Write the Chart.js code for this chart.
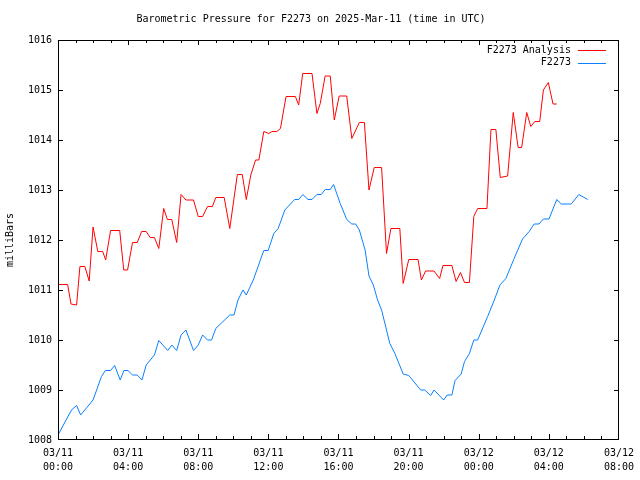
<!DOCTYPE html>
<html>
<head>
<meta charset="utf-8">
<script src="https://cdn.jsdelivr.net/npm/chart.js@4.4.1/dist/chart.umd.min.js"></script>
<style>
  body { margin: 0; background: #fff; }
  #wrap { width: 640px; height: 480px; }
</style>
</head>
<body>
<div id="wrap"><canvas id="myChart" width="640" height="480"></canvas></div>
<script>
// hours since 03/11 00:00 UTC, pressure in mb
var seriesNames = ["F2273 Analysis", "F2273"];
var seriesColors = ["#ff0000", "#0a80ff"];

var analysisHours = [0, 0.55, 0.74, 1.06, 1.25, 1.53, 1.78, 2.0, 2.27, 2.55, 2.72, 3.0, 3.52, 3.75, 3.97,
  4.25, 4.52, 4.77, 5.03, 5.26, 5.5, 5.75, 6.03, 6.24, 6.49, 6.77, 7.02, 7.3, 7.73, 8.0, 8.25, 8.53, 8.81,
  9.0, 9.48, 9.8, 10.23, 10.51, 10.74, 11.0, 11.27, 11.46, 11.74, 12.03, 12.2, 12.48, 12.69, 13.01, 13.54,
  13.73, 13.96, 14.49, 14.77, 14.96, 15.24, 15.53, 15.76, 16.04, 16.47, 16.76, 17.19, 17.48, 17.74, 18.04,
  18.46, 18.74, 18.99, 19.5, 19.69, 20.01, 20.54, 20.73, 20.97, 21.45, 21.77, 21.96, 22.47, 22.71, 22.96,
  23.19, 23.47, 23.72, 23.94, 24.47, 24.7, 24.98, 25.23, 25.65, 25.97, 26.25, 26.45, 26.74, 26.97, 27.2,
  27.48, 27.69, 27.97, 28.24, 28.45];
var analysisValues = [1011.11, 1011.11, 1010.72, 1010.70, 1011.47, 1011.47, 1011.18, 1012.26, 1011.77, 1011.77,
  1011.6, 1012.19, 1012.19, 1011.4, 1011.4, 1011.95, 1011.95, 1012.17, 1012.17, 1012.05, 1012.05, 1011.83,
  1012.63, 1012.41, 1012.41, 1011.95, 1012.91, 1012.8, 1012.8, 1012.47, 1012.47, 1012.67, 1012.67, 1012.85,
  1012.85, 1012.23, 1013.31, 1013.31, 1012.81, 1013.3, 1013.6, 1013.6, 1014.17, 1014.13, 1014.17, 1014.17,
  1014.23, 1014.87, 1014.87, 1014.7, 1015.33, 1015.33, 1014.53, 1014.73, 1015.28, 1015.28, 1014.4, 1014.88,
  1014.88, 1014.03, 1014.35, 1014.35, 1013.0, 1013.45, 1013.45, 1011.73, 1012.23, 1012.23, 1011.13, 1011.61,
  1011.61, 1011.2, 1011.38, 1011.38, 1011.23, 1011.49, 1011.49, 1011.17, 1011.35, 1011.15, 1011.15, 1012.47,
  1012.63, 1012.63, 1014.21, 1014.21, 1013.25, 1013.28, 1014.55, 1013.85, 1013.85, 1014.55, 1014.27, 1014.37,
  1014.37, 1015.0, 1015.15, 1014.72, 1014.72];

var stationHours = [0, 0.77, 1.06, 1.29, 2.0, 2.48, 2.7, 3.0, 3.23, 3.55, 3.76, 3.99, 4.25, 4.52, 4.79, 5.03,
  5.5, 5.75, 6.26, 6.49, 6.77, 7.02, 7.3, 7.73, 8.0, 8.25, 8.53, 8.76, 9.0, 9.8, 10.04, 10.27, 10.55, 10.74,
  11.14, 11.74, 11.99, 12.31, 12.56, 12.94, 13.5, 13.73, 13.97, 14.26, 14.49, 14.77, 15.02, 15.24, 15.53,
  15.72, 16.1, 16.47, 16.76, 16.98, 17.19, 17.52, 17.74, 17.99, 18.23, 18.46, 18.93, 19.22, 19.69, 20.01,
  20.69, 20.92, 21.26, 21.45, 22.0, 22.2, 22.47, 22.65, 23.0, 23.19, 23.47, 23.72, 23.94, 24.51, 24.89,
  25.21, 25.55, 26.02, 26.5, 26.88, 27.16, 27.44, 27.69, 28.01, 28.45, 28.71, 29.28, 29.71, 30.22];
var stationValues = [1008.1, 1008.6, 1008.69, 1008.5, 1008.8, 1009.27, 1009.39, 1009.39, 1009.49, 1009.2,
  1009.39, 1009.39, 1009.3, 1009.3, 1009.2, 1009.5, 1009.7, 1009.99, 1009.79, 1009.9, 1009.79, 1010.1,
  1010.2, 1009.79, 1009.9, 1010.1, 1010.0, 1010.0, 1010.23, 1010.5, 1010.5, 1010.8, 1011.0, 1010.9, 1011.2,
  1011.79, 1011.79, 1012.13, 1012.23, 1012.6, 1012.81, 1012.81, 1012.91, 1012.81, 1012.81, 1012.91, 1012.91,
  1013.01, 1013.01, 1013.11, 1012.73, 1012.41, 1012.32, 1012.32, 1012.2, 1011.8, 1011.28, 1011.1, 1010.8,
  1010.6, 1009.93, 1009.73, 1009.32, 1009.29, 1009.0, 1009.0, 1008.89, 1009.0, 1008.8, 1008.9, 1008.9,
  1009.19, 1009.32, 1009.57, 1009.73, 1010.0, 1010.0, 1010.47, 1010.8, 1011.1, 1011.23, 1011.63, 1012.02,
  1012.17, 1012.32, 1012.32, 1012.42, 1012.42, 1012.81, 1012.72, 1012.72, 1012.91, 1012.81];

var tickDays = ["03/11", "03/11", "03/11", "03/11", "03/11", "03/11", "03/12", "03/12", "03/12"];
var tickTimes = ["00:00", "04:00", "08:00", "12:00", "16:00", "20:00", "00:00", "04:00", "08:00"];

var monoFont = "'DejaVu Sans Mono', 'Liberation Mono', monospace";

function toPoints(xs, ys) {
  return xs.map(function (x, i) { return { x: x, y: ys[i] }; });
}

// gnuplot style box with inward ticks plus the legend in the top right corner
var frame = {
  id: "frame",
  afterDatasetsDraw: function (chart) {
    var ctx = chart.ctx;
    var a = chart.chartArea;
    var xs = chart.scales.x, ys = chart.scales.y;
    var L = Math.round(a.left), R = Math.round(a.right) - 1;
    var T = Math.round(a.top), B = Math.round(a.bottom) - 1;
    ctx.save();
    ctx.fillStyle = "#000";
    // box
    ctx.fillRect(L, T, R - L + 1, 1);
    ctx.fillRect(L, B, R - L + 1, 1);
    ctx.fillRect(L, T, 1, B - T + 1);
    ctx.fillRect(R, T, 1, B - T + 1);
    for (var h = 0; h <= 32; h++) {
      var px = Math.min(R, Math.round(xs.getPixelForValue(h)));
      var len = h % 4 === 0 ? 5 : 3;
      ctx.fillRect(px, B - len, 1, len);
      ctx.fillRect(px, T, 1, len);
    }
    for (var v = 1008; v <= 1016; v++) {
      var py = Math.min(B, Math.round(ys.getPixelForValue(v)));
      ctx.fillRect(L, py, 5, 1);
      ctx.fillRect(R - 4, py, 5, 1);
    }

    ctx.font = "10px " + monoFont;
    ctx.textAlign = "right";
    ctx.textBaseline = "middle";
    chart.data.datasets.forEach(function (ds, i) {
      var y = a.top + 10 + i * 12.5;
      ctx.fillStyle = "#000";
      ctx.fillText(ds.label, a.right - 48, y);
      ctx.fillStyle = ds.borderColor;
      ctx.fillRect(a.right - 41, Math.round(y), 28, 1);
    });
    ctx.restore();
  }
};

new Chart("myChart", {
  type: "line",
  data: {
    datasets: [
      {
        label: seriesNames[0],
        data: toPoints(analysisHours, analysisValues),
        borderColor: seriesColors[0],
        borderWidth: 1,
        pointRadius: 0,
        tension: 0,
        fill: false,
      },
      {
        label: seriesNames[1],
        data: toPoints(stationHours, stationValues),
        borderColor: seriesColors[1],
        borderWidth: 1,
        pointRadius: 0,
        tension: 0,
        fill: false,
      },
    ],
  },
  options: {
    responsive: false,
    animation: false,
    layout: { padding: { left: 0, right: 18, top: 0, bottom: 0 } },
    scales: {
      x: {
        type: "linear",
        min: 0,
        max: 32,
        afterFit: function (s) { s.height = 40; },
        grid: { display: true, drawOnChartArea: false, drawTicks: false },
        border: { display: false },
        ticks: {
          stepSize: 4,
          padding: 6,
          maxRotation: 0,
          color: "#000",
          font: { family: monoFont, size: 10, lineHeight: 1.4 },
          callback: function (v) { return [tickDays[v / 4], tickTimes[v / 4]]; },
        },
      },
      y: {
        min: 1008,
        max: 1016,
        afterFit: function (s) { s.width = 58; },
        grid: { display: true, drawOnChartArea: false, drawTicks: false },
        border: { display: false },
        title: {
          display: true,
          text: "milliBars",
          color: "#000",
          font: { family: monoFont, size: 10 },
          padding: 4,
        },
        ticks: {
          stepSize: 1,
          padding: 6,
          color: "#000",
          font: { family: monoFont, size: 10 },
          callback: function (v) { return String(v); },
        },
      },
    },
    plugins: {
      legend: { display: false },
      tooltip: { enabled: false },
      title: {
        display: true,
        text: "Barometric Pressure for F2273 on 2025-Mar-11 (time in UTC)",
        color: "#000",
        font: { family: monoFont, size: 10, weight: "normal", lineHeight: 1.2 },
        padding: { top: 13, bottom: 15 },
      },
    },
  },
  plugins: [frame],
});
</script>
</body>
</html>
